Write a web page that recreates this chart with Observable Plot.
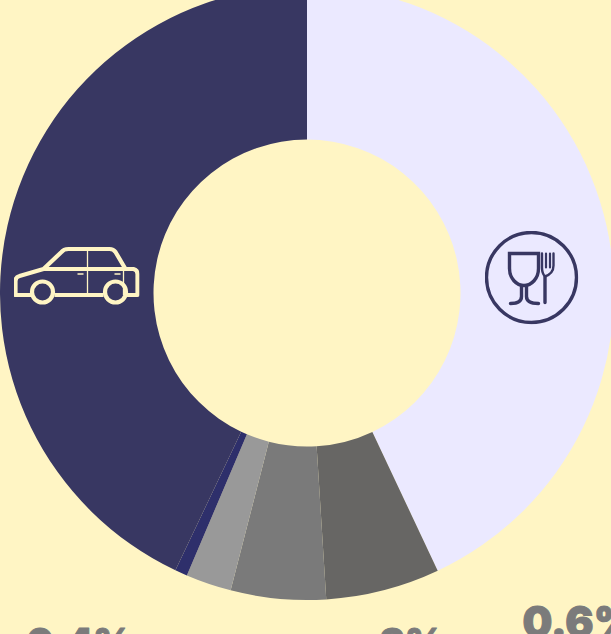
<!DOCTYPE html>
<html>
<head>
<meta charset="utf-8">
<script src="https://cdn.jsdelivr.net/npm/d3@7"></script>
<script src="https://cdn.jsdelivr.net/npm/@observablehq/plot@0.6"></script>
<style>
html,body{margin:0;padding:0;background:#fff5c4;overflow:hidden}
svg{display:block}
</style>
</head>
<body>
<div id="chart"></div>
<script>
const categories = ["Food","Gray A","Gray B","Gray C","Blue","Car"];
const shares = [43, 6, 5, 2.4, 0.65, 42.95];
const colors = ["#ebe9ff","#676664","#7a7a7a","#999999","#2e2f6b","#383762"];
const labels = ["0.4%","3%","0.6%"];
const labelColor = "#7b7b7b";
const bg = "#fff5c4";

const carSvg = `<svg xmlns="http://www.w3.org/2000/svg" viewBox="0 0 126 60"><g fill="none" stroke="#fff5c4" stroke-width="4.2" stroke-linejoin="round"><path d="M18 49H2V35Q2 31 6 30L30 23L48 6Q50 3 55 3H96Q100 3 102 6L112 23"/><path d="M30 23H120Q124 24 124 28V49H113M90 49H41"/><circle cx="29" cy="46" r="10.500"/><circle cx="102" cy="46" r="10.500"/></g><path d="M74 4V49M110 23V49" stroke="#fff5c4" stroke-width="1.3" fill="none"/><path d="M64 28h6M101 28h6" stroke="#fff5c4" stroke-width="1.6" fill="none"/></svg>`;
const foodSvg = `<svg xmlns="http://www.w3.org/2000/svg" viewBox="0 0 94 94"><g fill="none" stroke="#383762" stroke-width="3.400" stroke-linecap="round"><circle cx="47" cy="47" r="45"/><path d="M25 23H54V38C54 48 47 55 39.500 55C32 55 25 48 25 38Z"/><path d="M37 55V66C37 71 33 73 26 73M42 55V66C42 71 46 73 54 73M60.500 46V72"/><path d="M57.500 23V37C57.500 43 60.500 46 60.500 46C66 44 69 41 69 35V23" stroke-width="2.4"/><path d="M61.500 23V37M65.500 23V37" stroke-width="2.2"/></g></svg>`;
const src = s => "data:image/svg+xml;utf8," + encodeURIComponent(s);

const table = categories.map((c, i) => ({category: c, share: shares[i], color: colors[i]}));

function arcs(index, scales, values, dimensions) {
  const cx = 307, cy = 293, R = 307, r = 153.5;
  const arc = d3.arc().innerRadius(r).outerRadius(R);
  const g = d3.create("svg:g").attr("transform", `translate(${cx},${cy})`);
  for (const i of index) {
    g.append("path")
      .attr("d", arc({startAngle: values.x1[i], endAngle: values.x2[i]}))
      .attr("fill", values.fill ? values.fill[i] : table[i].color);
  }
  return g.node();
}

const textStyle = {text: d => d, frameAnchor: "top-left", textAnchor: "start", lineAnchor: "top", fontWeight: 900, fontFamily: "Inter", fill: labelColor, stroke: labelColor, strokeWidth: 1};

const plot = Plot.plot({
  width: 611, height: 634, margin: 0,
  style: {background: bg, overflow: "hidden"},
  x: {axis: null, domain: [0, 100], range: [0, 2 * Math.PI]},
  y: {axis: null},
  color: {type: "identity"},
  marks: [
    Plot.barX(table, Plot.stackX({x: "share", fill: "color", order: null, render: arcs})),
    Plot.image([src(carSvg)], {src: d => d, frameAnchor: "top-left", dx: 76, dy: 275.500, width: 126, height: 60}),
    Plot.image([src(foodSvg)], {src: d => d, frameAnchor: "top-left", dx: 531, dy: 277, width: 94, height: 94}),
    Plot.text([labels[0]], {...textStyle, dx: 26, dy: 629, fontSize: 38}),
    Plot.text([labels[1]], {...textStyle, dx: 379, dy: 629, fontSize: 38}),
    Plot.text([labels[2]], {...textStyle, dx: 522, dy: 607, fontSize: 42})
  ]
});
document.getElementById("chart").append(plot);
</script>
</body>
</html>
